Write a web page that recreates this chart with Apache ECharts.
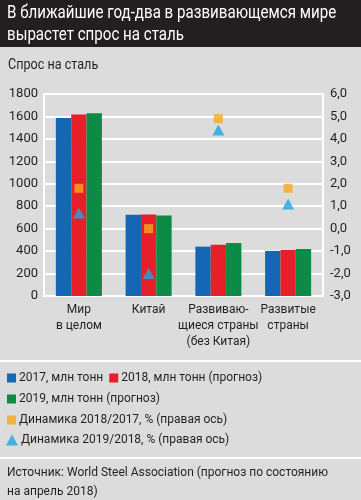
<!DOCTYPE html>
<html><head><meta charset="utf-8">
<script src="https://cdn.jsdelivr.net/npm/echarts@6/dist/echarts.min.js"></script>
<style>html,body{margin:0;padding:0;background:#dcdcdd;}#c{width:361px;height:500px;}</style>
</head><body><div id="c"></div>
<script>
const categories = ['Мир\nв целом', 'Китай', 'Развиваю-\nщиеся страны\n(без Китая)', 'Развитые\nстраны'];
const v2017 = [1587, 725, 440, 402];
const v2018 = [1618, 727, 457, 410];
const v2019 = [1628, 718, 472, 419];
const dyn1817 = [1.8, 0.0, 4.9, 1.8];
const dyn1918 = [0.7, -2.0, 4.4, 1.1];
const leftTicks = [0, 1800, 200];
const rightTicks = [-3, 6, 1];

const FONT = 'Roboto,"Liberation Sans",sans-serif';
const TXT = '#231f20';
const C = {blue:'#1666b6', red:'#e61f2b', green:'#0b8b45', orange:'#f8a91e', cyan:'#1ea6e1'};

const chart = echarts.init(document.getElementById('c'), null, {renderer:'canvas'});
const legendBase = {orient:'horizontal', itemWidth:9, itemHeight:9, itemGap:6,
  textStyle:{fontFamily:FONT, fontSize:12, color:TXT, padding:[0,0,0,-2]}, selectedMode:false, padding:0};
chart.setOption({
  backgroundColor:'#dcdcdd',
  textStyle:{fontFamily:FONT},
  graphic:[
    {type:'rect', shape:{x:0,y:0,width:361,height:47}, style:{fill:'#231f20'}},
    {type:'text', x:7, y:2, scaleX:0.84, style:{text:'В ближайшие год-два в развивающемся мире\nвырастет спрос на сталь', fill:'#fff', font:'18px '+FONT, lineHeight:22}},
    {type:'text', x:8, y:58, scaleX:0.9, style:{text:'Спрос на сталь', fill:TXT, font:'14px '+FONT}},
    {type:'rect', shape:{x:0,y:360,width:361,height:2}, style:{fill:'#fff'}},
    {type:'rect', shape:{x:0,y:457,width:361,height:2}, style:{fill:'#fff'}},
    {type:'text', left:7, top:463, style:{text:'Источник: World Steel Association (прогноз по состоянию\nна апрель 2018)', fill:TXT, font:'12px '+FONT, lineHeight:19}}
  ],
  legend:[
    Object.assign({}, legendBase, {left:7, top:372, data:[{name:'2017, млн тонн', icon:'rect'},{name:'2018, млн тонн (прогноз)', icon:'rect'}]}),
    Object.assign({}, legendBase, {left:7, top:393, data:[{name:'2019, млн тонн (прогноз)', icon:'rect'}]}),
    Object.assign({}, legendBase, {left:7, top:414, data:[{name:'Динамика 2018/2017, % (правая ось)', icon:'rect'}]}),
    Object.assign({}, legendBase, {left:6, top:434, itemWidth:12, itemHeight:11, data:[{name:'Динамика 2019/2018, % (правая ось)', icon:'triangle'}]})
  ],
  grid:{left:44, right:38, top:94, bottom:204},
  xAxis:{type:'category', data:categories,
    axisLine:{show:true, lineStyle:{color:'#fff', width:2}}, axisTick:{show:false},
    axisLabel:{fontFamily:FONT, fontSize:12, color:TXT, lineHeight:16, margin:6, interval:0}},
  yAxis:[
    {type:'value', min:leftTicks[0], max:leftTicks[1], interval:leftTicks[2],
      axisLine:{show:true, lineStyle:{color:'#fff', width:2}}, axisTick:{show:false},
      splitLine:{lineStyle:{color:'#fff', width:2}},
      axisLabel:{fontFamily:FONT, fontSize:13, color:TXT, margin:6, formatter:v=>String(v)}},
    {type:'value', min:rightTicks[0], max:rightTicks[1], interval:rightTicks[2],
      axisLine:{show:true, lineStyle:{color:'#fff', width:2}}, axisTick:{show:false},
      splitLine:{show:false},
      axisLabel:{fontFamily:FONT, fontSize:13, color:TXT, margin:7, formatter:v=>v.toFixed(1).replace('.',',')}}
  ],
  series:[
    {name:'2017, млн тонн', type:'bar', data:v2017, itemStyle:{color:C.blue}, barGap:'0%', barCategoryGap:'34%'},
    {name:'2018, млн тонн (прогноз)', type:'bar', data:v2018, itemStyle:{color:C.red}},
    {name:'2019, млн тонн (прогноз)', type:'bar', data:v2019, itemStyle:{color:C.green}},
    {name:'Динамика 2018/2017, % (правая ось)', type:'scatter', yAxisIndex:1, data:dyn1817, symbol:'rect', symbolSize:9, itemStyle:{color:C.orange}, z:5},
    {name:'Динамика 2019/2018, % (правая ось)', type:'scatter', yAxisIndex:1, data:dyn1918, symbol:'triangle', symbolSize:[12,11], itemStyle:{color:C.cyan}, z:5}
  ]
});
</script></body></html>
